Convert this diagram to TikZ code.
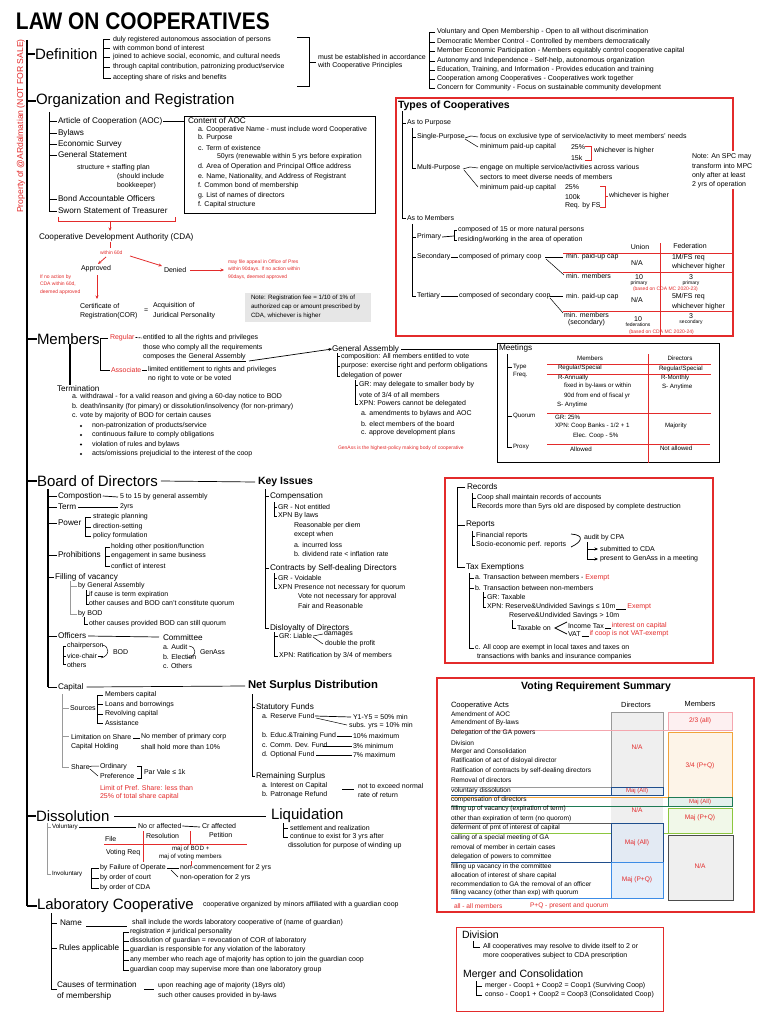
\documentclass[tikz,border=0pt]{standalone}
\usepackage{fontspec}
\setmainfont{Liberation Sans}
\usetikzlibrary{arrows.meta}
\definecolor{red1}{HTML}{E32B2B}
\definecolor{navy1}{HTML}{1F4E8C}
\definecolor{navyf}{HTML}{E3EAF3}
\definecolor{blue1}{HTML}{3C8CE6}
\definecolor{bluef}{HTML}{E4EFFB}
\definecolor{orng}{HTML}{F2A33A}
\definecolor{orngf}{HTML}{FDF4E8}
\definecolor{teal1}{HTML}{1E7A55}
\definecolor{tealf}{HTML}{E3F0EC}
\definecolor{grn1}{HTML}{8CC63F}
\definecolor{grnf}{HTML}{F1F8E9}
\definecolor{pink1}{HTML}{F4A6AE}
\definecolor{pinkf}{HTML}{FDF0F1}
\definecolor{gry1}{HTML}{9A9A9A}
\definecolor{gfill}{HTML}{EFEFEF}
\definecolor{gnote}{HTML}{E6E6E6}
\begin{document}
\begin{tikzpicture}[x=1pt,y=-1pt,
 bx/.style={anchor=west,inner sep=0pt,outer sep=0pt},
 t/.style={bx,font=\fontsize{7}{8}\selectfont},
 tv/.style={bx,font=\fontsize{6.6}{7.5}\selectfont},
 ts/.style={bx,font=\fontsize{6.2}{7.2}\selectfont},
 tm/.style={bx,font=\fontsize{8.2}{9.5}\selectfont},
 tt/.style={bx,font=\fontsize{5}{6}\selectfont},
 hd/.style={bx,font=\fontsize{15}{17}\selectfont},
 hb/.style={bx,font=\fontsize{10.5}{12}\selectfont\bfseries},
 rt/.style={text=red1},
 ln/.style={line width=0.7pt},
 lnt/.style={line width=0.5pt},
 tk/.style={line width=1.8pt},
 rl/.style={draw=red1,line width=0.8pt},
 arr/.style={-{Stealth[length=3.5pt,width=3pt]}},
]
\useasboundingbox[fill=white] (0,0) rectangle (768,1024);

% ===== Title and watermark
\node[bx,font=\fontsize{24}{26}\selectfont\bfseries] (title) at (16,21.5) {\scalebox{0.87}[1]{LAW ON COOPERATIVES}};
\node[inner sep=0pt,rotate=90,text=red1,font=\fontsize{8.6}{10}\selectfont] (wm) at (21,126) {Property of @ARdalmatian (NOT FOR SALE)};

% ===== main spine
\coordinate (m0) at (27,40);
\coordinate (m1) at (27,906);
\draw[line width=2.2pt] (m0) -- (m1);

% ===== Definition
\node[hd] (hdef) at (35,54) {Definition};
\draw[tk] (27,54) -- (hdef.west);
\draw[ln] (110,39) -- (103,39) -- (103,78) -- (111,78);
\foreach \y in {48,57,67} \draw[ln] (103,\y) -- (110,\y);
\foreach \y/\s [count=\i] in {39.5/{duly registered autonomous association of persons},48/{with common bond of interest},57/{joined to achieve social, economic, and cultural needs},67/{through capital contribution, patronizing product/service},78/{accepting share of risks and benefits}} \node[t] (d\i) at (113,\y) {\s};
\draw[ln] (297,37) -- (309,37) -- (309,86) -- (297,86);
\draw[ln] (309,62) -- (316,62);
\node[t] (acc1) at (318,57) {must be established in accordance};
\node[t] (acc2) at (318,66) {with Cooperative Principles};
\draw[ln] (435,32) -- (429,32) -- (429,88) -- (435,88);
\foreach \y in {42,51,61,70,79} \draw[ln] (429,\y) -- (435,\y);
\foreach \y/\s [count=\i] in {32/{Voluntary and Open Membership - Open to all without discrimination},42/{Democratic Member Control - Controlled by members democratically},51/{Member Economic Participation - Members equitably control cooperative capital},61/{Autonomy and Independence - Self-help, autonomous organization},70/{Education, Training, and Information - Provides education and training},79/{Cooperation among Cooperatives - Cooperatives work together},88/{Concern for Community - Focus on sustainable community development}} \node[t] (p\i) at (437,\y) {\s};

% ===== Organization and Registration
\node[hd] (horg) at (36,101) {Organization and Registration};
\draw[tk] (27,101) -- (horg.west);
\draw[ln] (49,112) -- (49,211);
\foreach \y/\s [count=\i] in {121/{Article of Cooperation (AOC)},133/{Bylaws},144/{Economic Survey},155/{General Statement},199/{Bond Accountable Officers},211/{Sworn Statement of Treasurer}} {\draw[ln] (49,\y) -- (57,\y); \node[tm] (o\i) at (58,\y) {\s};}
\node[t] (gs1) at (77,168) {structure + staffing plan};
\node[t] (gs2) at (117,177) {(should include};
\node[t] (gs3) at (117,186) {bookkeeper)};
\draw[line width=0.9pt] (184,116) rectangle (375,213);
\draw[ln] ([xshift=1pt]o1.east) -- (184,121);
\node[tm] (c0) at (188,121) {Content of AOC};
\foreach \y/\s [count=\i] in {130/{a. Cooperative Name - must include word Cooperative},138/{b. Purpose},148/{c. Term of existence},167/{d. Area of Operation and Principal Office address},177/{e. Name, Nationality, and Address of Registrant},186/{f. Common bond of membership},196/{g. List of names of directors},205/{f. Capital structure}} \node[t] (c\i) at (198,\y) {\s};
\node[t] (c9) at (217,157) {50yrs (renewable within 5 yrs before expiration};

% registration flow
\draw[rl] (58,217) -- (58,221) -- (175,221) -- (175,217);
\node[tm] (cda) at (39,237) {Cooperative Development Authority (CDA)};
\draw[rl,arr] (110,221) -- (110,231);
\draw[rl] (110,242) -- (110,248);
\node[tt,rt] (w60) at (100,252.5) {within 60d};
\node[t] (appr) at (81,269) {Approved};
\node[t] (den) at (164,270) {Denied};
\draw[rl,arr] (106,257) -- (98,264);
\draw[rl,arr] (130,256) -- (162,266);
\draw[rl,line width=1pt,arr] ([xshift=4pt]den.east) -- (224,270);
\node[tt,rt] (ap1) at (228,262) {may file appeal in Office of Pres};
\node[tt,rt] (ap2) at (228,269.5) {within 90days. If no action within};
\node[tt,rt] (ap3) at (228,277) {90days, deemed approved};
\node[tt,rt] (na1) at (40,277) {If no action by};
\node[tt,rt] (na2) at (40,284.5) {CDA within 60d,};
\node[tt,rt] (na3) at (40,292) {deemed approved};
\draw[rl,arr] (97,275) -- (97,299);
\node[t] (cor1) at (80,306) {Certificate of};
\node[t] (cor2) at (80,316) {Registration(COR)};
\node[t] (eq) at (144,311) {=};
\node[t] (jp1) at (153,306) {Acquisition of};
\node[t] (jp2) at (153,316) {Juridical Personality};
\fill[gnote] (245,293) rectangle (371,322);
\node[ts] (fee1) at (251,298) {Note: Registration fee = 1/10 of 1\% of};
\node[ts] (fee2) at (251,307) {authorized cap or amount prescribed by};
\node[ts] (fee3) at (251,316) {CDA, whichever is higher};

% ===== Members
\node[hd] (hmem) at (37,339) {Members};
\draw[tk] (27,339) -- (hmem.west);
\draw[ln] (108,338) -- (100,338) -- (100,370) -- (110,370);
\node[t,rt] (reg) at (110,337.5) {Regular};
\draw[ln,dash pattern=on 2pt off 1pt] ([xshift=1pt]reg.east) -- (142,338);
\node[t] (r1) at (143,338) {entitled to all the rights and privileges};
\node[t] (r2) at (143,348) {those who comply all the requirements};
\node[t] (r3) at (143,357.5) {composes the \underline{General Assembly}};
\node[t,rt] (asc) at (111,370) {Associate};
\draw[ln] ([xshift=1pt]asc.east) -- (147,370);
\node[t] (a1) at (148,370) {limited entitlement to rights and privileges};
\node[t] (a2) at (148,379) {no right to vote or be voted};
\draw[line width=1.3pt] (70,344) -- (70,385);
\node[tm] (term) at (57,389) {Termination};
\node[t] (tr1) at (72,397) {a. withdrawal - for a valid reason and giving a 60-day notice to BOD};
\node[t] (tr2) at (72,407) {b. death/insanity (for pimary) or dissolution/insolvency (for non-primary)};
\node[t] (tr3) at (72,416) {c. vote by majority of BOD for certain causes};
\foreach \y/\s [count=\i] in {426/{non-patronization of products/service},435/{continuous failure to comply obligations},444.5/{violation of rules and bylaws},454/{acts/omissions prejudicial to the interest of the coop}} {\fill (81,\y) circle (1.1pt); \node[t] (tb\i) at (92,\y) {\s};}

% General Assembly
\node[tm] (ga) at (332,349) {General Assembly};
\draw[ln,arr] (249,361) -- (ga.west);
\draw[ln] ([xshift=2pt]ga.east) -- (497,349);
\draw[ln] (337,353) -- (337,376);
\foreach \y/\s [count=\i] in {356.5/{composition: All members entitled to vote},366/{purpose: exercise right and perform obligations},376/{delegation of power}} {\draw[ln] (337,\y) -- (340,\y); \node[t] (g\i) at (341,\y) {\s};}
\draw[ln] (355,380) -- (355,404);
\draw[ln] (355,385) -- (358,385);
\draw[ln] (355,404) -- (358,404);
\node[t] (g4) at (359,385) {GR: may delegate to smaller body by};
\node[t] (g5) at (359,395) {vote of 3/4 of all members};
\node[t] (g6) at (359,404) {XPN: Powers cannot be delegated};
\node[t] (g7) at (361,414) {a. amendments to bylaws and AOC};
\node[t] (g8) at (361,424) {b. elect members of the board};
\node[t] (g9) at (361,433) {c. approve development plans};
\node[tt,rt] (g10) at (338,448.5) {GenAss is the highest-policy making body of cooperative};

% Meetings
\draw[line width=0.9pt] (497,343) rectangle (719,462);
\node[tm] (meet) at (499,348) {Meetings};
\draw[ln] (507,354) -- (507,447);
\foreach \y in {367,416,447} \draw[ln] (507,\y) -- (512,\y);
\node[ts] (mt1) at (513,367) {Type};
\node[ts] (mt2) at (513,375) {Freq.};
\node[ts] (mt3) at (513,416) {Quorum};
\node[ts] (mt4) at (513,447) {Proxy};
\node[ts,anchor=center] (mh1) at (590,358) {Members};
\node[ts,anchor=center] (mh2) at (680,358) {Directors};
\draw[rl] (648,354) -- (648,463);
\draw[rl] (547,364) -- (711,364);
\draw[rl] (547,374) -- (711,374);
\draw[rl] (547,413) -- (711,413);
\draw[rl] (547,444) -- (710,444);
\node[ts] (mc1) at (558,368) {Regular/Special};
\node[ts] (mc2) at (659,369) {Regular/Special};
\node[ts] (mc3) at (558,377.5) {R-Annually};
\node[ts] (mc4) at (564,386) {fixed in by-laws or within};
\node[ts] (mc5) at (564,396) {90d from end of fiscal yr};
\node[ts] (mc6) at (557,405) {S- Anytime};
\node[ts] (mc7) at (661,378) {R-Monthly};
\node[ts] (mc8) at (662,387) {S- Anytime};
\node[ts] (mc9) at (555,417) {GR: 25\%};
\node[ts] (mc10) at (555,426) {XPN: Coop Banks - 1/2 + 1};
\node[ts] (mc11) at (573,436) {Elec. Coop - 5\%};
\node[ts] (mc12) at (665,426) {Majority};
\node[ts] (mc13) at (570,449) {Allowed};
\node[ts] (mc14) at (660,448) {Not allowed};

% ===== Types of Cooperatives
\draw[red1,line width=1.2pt] (396,98) rectangle (733,336);
\node[hb] (htyp) at (398,106) {Types of Cooperatives};
\draw[ln] (402,111) -- (402,218);
\draw[ln] (402,123) -- (406,123);
\draw[ln] (402,218) -- (406,218);
\node[t] (tp1) at (407,123) {As to Purpose};
\node[t] (tp2) at (407,218) {As to Members};
\draw[ln] (412,128) -- (412,168);
\draw[ln] (412,137) -- (416,137);
\draw[ln] (412,168) -- (416,168);
\node[t] (sp) at (417,137) {Single-Purpose};
\node[t] (mp) at (417,168) {Multi-Purpose};
\draw[lnt] (465,138) -- (471,136) -- (478,137);
\draw[lnt] (465,139) -- (478,147);
\node[t] (sp1) at (480,137) {focus on exclusive type of service/activity to meet members' needs};
\node[t] (sp2) at (480,147) {minimum paid-up capital};
\node[t] (sp3) at (571,147) {25\%};
\node[t] (sp4) at (571,157.5) {15k};
\draw[rl] (585,146) -- (591,146) -- (591,160) -- (585,160);
\node[t] (sp5) at (594,151) {whichever is higher};
\draw[lnt] (463,169) -- (470,167) -- (478,168);
\draw[lnt] (464,170) -- (478,187);
\node[t] (mp1) at (480,168) {engage on multiple service/activities across various};
\node[t] (mp2) at (480,177) {sectors to meet diverse needs of members};
\node[t] (mp3) at (480,187.5) {minimum paid-up capital};
\node[t] (mp4) at (565,187) {25\%};
\node[t] (mp5) at (565,196.5) {100k};
\node[t] (mp6) at (565,206) {Req. by FS};
\draw[rl] (600,186) -- (605,186) -- (605,207) -- (600,207);
\draw[rl] (605,196) -- (608,196);
\node[t] (mp7) at (609,196) {whichever is higher};
\fill[white] (727,151) rectangle (756,189);
\node[t] (nt1) at (692,157) {Note: An SPC may};
\node[t] (nt2) at (692,166) {transform into MPC};
\node[t] (nt3) at (692,176) {only after at least};
\node[t] (nt4) at (692,185) {2 yrs of operation};
\draw[ln] (412,224) -- (412,297);
\foreach \y in {237,257,296} \draw[ln] (412,\y) -- (416,\y);
\node[t] (pr) at (417,237) {Primary};
\draw[ln] ([xshift=1pt]pr.east) -- (454,236);
\draw[ln] (457,230) -- (454,230) -- (454,240) -- (457,240);
\node[t] (pr1) at (458,230) {composed of 15 or more natural persons};
\node[t] (pr2) at (458,240) {residing/working in the area of operation};
\node[t] (sec) at (417,257) {Secondary};
\node[t] (sc1) at (459,257) {composed of primary coop};
\draw[ln] ([xshift=1pt]sec.east) -- ([xshift=-1pt]sc1.west);
\draw[ln] (545,257) -- (563,257);
\draw[lnt] (546,259) -- (564,275);
\node[t] (sc2) at (566,257) {min. paid-up cap};
\node[t] (sc3) at (566,276) {min. members};
\node[t] (ter) at (417,296) {Tertiary};
\node[t] (tc1) at (459,296) {composed of secondary coop};
\draw[ln] ([xshift=1pt]ter.east) -- ([xshift=-1pt]tc1.west);
\draw[ln] (550,296) -- (563,296);
\draw[lnt] (550,298) -- (563,313);
\node[t] (tc2) at (566,297) {min. paid-up cap};
\node[t] (tc3) at (564,315) {min. members};
\node[t] (tc4) at (568,322.5) {(secondary)};
\node[t,anchor=center] (un) at (640,247) {Union};
\node[t,anchor=center] (fe) at (690,246) {Federation};
\draw[rl] (660,243) -- (660,335);
\draw[rl] (563,253) -- (732,253);
\draw[rl] (563,272) -- (732,272);
\draw[rl] (563,311) -- (732,311);
\node[t] (u1) at (631,263) {N/A};
\node[t] (f1) at (672,258) {1M/FS req};
\node[t] (f2) at (672,267) {whichever higher};
\node[t,anchor=center] (u2) at (639,277) {10};
\node[tt,anchor=center] (u3) at (639,283) {primary};
\node[t,anchor=center] (f3) at (691,277) {3};
\node[tt,anchor=center] (f4) at (691,283) {primary};
\node[tt,rt] (bs1) at (633,289) {(based on CDA MC 2020-23)};
\node[t] (u4) at (631,300) {N/A};
\node[t] (f5) at (672,297) {5M/FS req};
\node[t] (f6) at (672,307) {whichever higher};
\node[t,anchor=center] (u5) at (638,319) {10};
\node[tt,anchor=center] (u6) at (638,325) {federations};
\node[t,anchor=center] (f7) at (691,316) {3};
\node[tt,anchor=center] (f8) at (691,322) {secondary};
\node[tt,rt] (bs2) at (629,332) {(based on CDA MC 2020-24)};

% ===== Board of Directors
\node[hd] (hbod) at (37,481) {Board of Directors};
\draw[tk] (27,481) -- (hbod.west);
\node[hb] (hkey) at (258,482) {Key Issues};
\draw[ln] ([xshift=3pt]hbod.east) -- ([xshift=-3pt]hkey.west);
\draw[line width=1.1pt] (48,489) -- (48,687);
\draw[ln] (48,496) -- (57,496); \node[tm] (b1) at (58,496) {Compostion};
\draw[ln] ([xshift=1pt]b1.east) -- (118,497); \node[t] (b1a) at (120,497) {5 to 15 by general assembly};
\draw[ln] (48,507) -- (57,507); \node[tm] (b2) at (58,507) {Term};
\draw[ln] ([xshift=2pt]b2.east) -- (118,507); \node[t] (b2a) at (120,507) {2yrs};
\draw[ln] (48,523) -- (57,523); \node[tm] (b3) at (58,523) {Power};
\draw[ln] (91,517) -- (85,517) -- (85,536) -- (91,536); \draw[ln] (85,527) -- (91,527);
\node[t] (b3a) at (93,517) {strategic planning};
\node[t] (b3b) at (93,527) {direction-setting};
\node[t] (b3c) at (93,536) {policy formulation};
\draw[ln] (48,555) -- (57,555); \node[tm] (b4) at (58,555) {Prohibitions};
\draw[ln] (110,547) -- (105,547) -- (105,566) -- (110,566); \draw[ln] (105,556) -- (110,556);
\node[t] (b4a) at (111,547) {holding other position/function};
\node[t] (b4b) at (111,556) {engagement in same business};
\node[t] (b4c) at (111,566) {conflict of interest};
\draw[ln] (48,577) -- (54,577); \node[tm] (b5) at (55,577) {Filling of vacancy};
\draw[lnt,gry1] (70,581) -- (70,614);
\draw[lnt,gry1] (70,586) -- (77,586);
\draw[lnt,gry1] (70,614) -- (77,614);
\node[t] (fv1) at (78,586) {by General Assembly};
\draw[lnt] (86,590) -- (86,604) -- (89,604);
\draw[lnt] (86,595) -- (89,595);
\node[t] (fv2) at (89,595) {if cause is term expiration};
\node[t] (fv3) at (89,604) {other causes and BOD can't constitute quorum};
\node[t] (fv4) at (78,614) {by BOD};
\draw[lnt] (84,617) -- (84,624) -- (88,624);
\node[t] (fv5) at (89,624) {other causes provided BOD can still quorum};
\draw[ln] (48,636) -- (57,636); \node[tm] (b6) at (58,636) {Officers};
\draw[ln] ([xshift=2pt]b6.east) -- (159,637);
\node[tm] (com) at (163,638) {Committee};
\draw[ln] (66,646) -- (63,646) -- (63,664) -- (66,664); \draw[ln] (63,656) -- (66,656);
\node[t] (of1) at (67,646) {chairperson};
\node[t] (of2) at (67,656) {vice-chair};
\node[t] (of3) at (67,664.5) {others};
\draw[lnt] (102,645) .. controls (110,646) and (110,656) .. (101,658);
\draw[lnt] (98,656) -- (103,656);
\node[t] (of4) at (113,652) {BOD};
\node[t] (cm1) at (163,647) {a. Audit};
\node[t] (cm2) at (163,657) {b. Election};
\node[t] (cm3) at (163,666) {c. Others};
\draw[lnt] (189,646) .. controls (197,647) and (197,656) .. (188,658);
\node[t] (cm4) at (200,652) {GenAss};

% Capital
\draw[ln] (48,687) -- (57,687); \node[tm] (b7) at (58,687) {Capital};
\node[bx,font=\fontsize{11.3}{13}\selectfont\bfseries] (hnsd) at (248,686) {Net Surplus Distribution};
\draw[ln] ([xshift=3pt]b7.east) -- ([xshift=-3pt]hnsd.west);
\draw[lnt,gry1,line width=0.8pt] (62,694) -- (62,767);
\foreach \y in {708,736,767} \draw[lnt,gry1,line width=0.8pt] (62,\y) -- (69,\y);
\node[t] (s1) at (70,708) {Sources};
\draw[ln] (103,695) -- (97,695) -- (97,723) -- (103,723);
\draw[ln] (97,704) -- (103,704); \draw[ln] (97,714) -- (103,714);
\node[t] (s1a) at (105,695) {Members capital};
\node[t] (s1b) at (105,704.5) {Loans and borrowings};
\node[t] (s1c) at (105,714) {Revolving capital};
\node[t] (s1d) at (105,723) {Assistance};
\node[t] (s2) at (71,737) {Limitation on Share};
\node[t] (s3) at (71,746.5) {Capital Holding};
\draw[ln] (133,738) -- (140,738);
\node[t] (s4) at (141,737) {No member of primary corp};
\node[t] (s5) at (141,747) {shall hold more than 10\%};
\node[t] (s6) at (71,767) {Share};
\draw[lnt] (89,767) -- (92,766) -- (99,766);
\draw[lnt] (90,769) -- (98,776);
\node[t] (s7) at (100,766.5) {Ordinary};
\node[t] (s8) at (100,776) {Preference};
\draw[ln] (137,766) -- (141,766) -- (141,778) -- (137,778);
\node[t] (s9) at (144,772) {Par Vale ≤ 1k};
\node[t,rt] (s10) at (100,788) {Limit of Pref. Share: less than};
\node[t,rt] (s11) at (100,797) {25\% of total share capital};

% Net surplus
\draw[ln] (252,694) -- (252,776);
\draw[ln] (252,707) -- (255,707);
\draw[ln] (252,776) -- (255,776);
\node[tm] (ns1) at (256,707) {Statutory Funds};
\node[t] (ns2) at (262,716) {a. Reserve Fund};
\draw[ln] (315,716) -- (351,717);
\draw[lnt] (316,718) -- (347,725);
\node[t] (ns3) at (353,717) {Y1-Y5 = 50\% min};
\node[t] (ns4) at (349,726) {subs. yrs = 10\% min};
\node[t] (ns5) at (262,736) {b. Educ.\&Training Fund};
\draw[ln] ([xshift=1pt]ns5.east) -- (352,736);
\node[t] (ns6) at (353,736) {10\% maximum};
\node[t] (ns7) at (262,745) {c. Comm. Dev. Fund};
\draw[ln] (323,746) -- (352,746);
\node[t] (ns8) at (353,746) {3\% minimum};
\node[t] (ns9) at (262,755) {d. Optional Fund};
\draw[ln] (316,755) -- (352,755);
\node[t] (ns10) at (353,755) {7\% maximum};
\node[tm] (ns11) at (256,776) {Remaining Surplus};
\node[t] (ns12) at (262,786) {a. Interest on Capital};
\node[t] (ns13) at (262,795) {b. Patronage Refund};
\draw[ln] (342,789) -- (354,789);
\node[t] (ns14) at (358,786) {not to exceed normal};
\node[t] (ns15) at (358,795) {rate of return};

% Key issues
\draw[ln] (265,489) -- (265,628);
\foreach \y in {496,568,628} \draw[ln] (265,\y) -- (269,\y);
\node[tm] (k1) at (270,496) {Compensation};
\draw[ln] (274,502) -- (274,516);
\draw[ln] (274,507) -- (277,507);
\draw[ln] (274,516) -- (277,516);
\node[t] (k2) at (278,507) {GR - Not entitled};
\node[t] (k3) at (278,516) {XPN By laws};
\node[t] (k4) at (294,526) {Reasonable per diem};
\node[t] (k5) at (294,535) {except when};
\node[t] (k6) at (294,545) {a. incurred loss};
\node[t] (k7) at (294,554) {b. dividend rate < inflation rate};
\node[tm] (k8) at (270,568) {Contracts by Self-dealing Directors};
\draw[ln] (274,573) -- (274,588);
\draw[ln] (274,578) -- (277,578);
\draw[ln] (274,588) -- (277,588);
\node[t] (k9) at (278,578) {GR - Voidable};
\node[t] (k10) at (278,588) {XPN Presence not necessary for quorum};
\node[t] (k11) at (298,597) {Vote not necessary for approval};
\node[t] (k12) at (298,606) {Fair and Reasonable};
\node[tm] (k13) at (270,628) {Disloyalty of Directors};
\draw[ln] (274,632) -- (274,656);
\draw[ln] (274,636) -- (278,636);
\draw[ln] (274,656) -- (278,656);
\node[t] (k14) at (279,636) {GR: Liable};
\draw[lnt] ([xshift=1pt]k14.east) -- (323,634);
\draw[lnt] (313,637) -- (323,644);
\node[t] (k15) at (324,634) {damages};
\node[t] (k16) at (325,644) {double the profit};
\node[t] (k17) at (279,656) {XPN: Ratification by 3/4 of members};

% ===== Records / Reports / Tax box
\draw[red1,line width=1.2pt] (445,478) rectangle (713,663);
\draw[ln] (465,487) -- (457,487) -- (457,567) -- (465,567);
\draw[ln] (457,525) -- (465,525);
\node[tm] (rc) at (467,487) {Records};
\draw[lnt] (472,493) -- (472,507) -- (476,507);
\draw[lnt] (472,498) -- (476,498);
\node[t] (rc1) at (477,498) {Coop shall maintain records of accounts};
\node[t] (rc2) at (477,507) {Records more than 5yrs old are disposed by complete destruction};
\node[tm] (rp) at (466,525) {Reports};
\draw[lnt] (472,531) -- (472,545) -- (475,545);
\draw[lnt] (472,536) -- (475,536);
\node[t] (rp1) at (476,536) {Financial reports};
\node[t] (rp2) at (476,545) {Socio-economic perf. reports};
\draw[ln] (571,534) .. controls (585,535) and (582,542) .. (571,547);
\node[t] (rp3) at (584,538) {audit by CPA};
\draw[ln] (587,542) -- (587,559);
\draw[ln,arr] (587,549) -- (598,549);
\draw[ln,arr] (587,559) -- (598,559);
\node[t] (rp4) at (600,549) {submitted to CDA};
\node[t] (rp5) at (600,559) {present to GenAss in a meeting};
\node[tm] (tx) at (466,567) {Tax Exemptions};
\draw[ln] (469,573) -- (469,648);
\foreach \y in {578,588,648} \draw[ln] (469,\y) -- (474,\y);
\node[t] (tx1) at (475,578) {a. Transaction between members - \textcolor{red1}{Exempt}};
\node[t] (tx2) at (475,588) {b. Transaction between non-members};
\draw[ln] (483,592) -- (483,607);
\draw[ln] (483,597) -- (486,597);
\draw[ln] (483,607) -- (486,607);
\node[t] (tx3) at (487,597) {GR: Taxable};
\node[t] (tx4) at (487,607) {XPN: Reserve\&Undivided Savings ≤ 10m};
\node[t,rt] (tx5) at ([xshift=12pt]tx4.east) {Exempt};
\draw[ln] ([xshift=1pt,yshift=-2pt]tx4.east) -- ([xshift=-1pt,yshift=-2pt]tx5.west);
\node[t] (tx6) at (509,616) {Reserve\&Undivided Savings > 10m};
\draw[ln] (512,620) -- (512,628) -- (516,628);
\node[t] (tx7) at (517,628) {Taxable on};
\draw[ln] (567,622) -- (555,628) -- (567,634);
\node[t] (tx8) at (568,626) {Income Tax};
\node[t,rt] (tx9) at ([xshift=8pt]tx8.east) {interest on capital};
\draw[ln] ([xshift=1pt,yshift=-2pt]tx8.east) -- ([xshift=-1pt,yshift=-2pt]tx9.west);
\node[t] (tx10) at (568,634) {VAT};
\node[t,rt] (tx11) at ([xshift=9pt]tx10.east) {if coop is not VAT-exempt};
\draw[ln] ([xshift=1pt,yshift=-2pt]tx10.east) -- ([xshift=-1pt,yshift=-2pt]tx11.west);
\node[t] (tx12) at (475,648) {c. All coop are exempt in local taxes and taxes on};
\node[t] (tx13) at (477,657) {transactions with banks and insurance companies};

% ===== Voting Requirement Summary
\draw[red1,line width=1.2pt] (437,678) rectangle (754,912);
\node[hb,anchor=center] (vt) at (596,687) {Voting Requirement Summary};
\node[bx,font=\fontsize{7.6}{9}\selectfont] (vca) at (451,705.5) {Cooperative Acts};
\node[inner sep=0pt,font=\fontsize{7.4}{9}\selectfont] (vdh) at (636,705) {Directors};
\node[inner sep=0pt,font=\fontsize{7.4}{9}\selectfont] (vmh) at (700,703.5) {Members};
\draw[gry1,fill=gfill,line width=0.9pt] (611,712) rectangle (663,787);
\draw[pink1,fill=pinkf,line width=0.9pt] (668,712) rectangle (732,730);
\draw[pink1,line width=0.9pt] (451,730) -- (668,730);
\draw[orng,fill=orngf,line width=0.9pt] (668,732) rectangle (732,797);
\draw[gry1,line width=0.9pt] (451,787) -- (611,787);
\draw[navy1,fill=navyf,line width=0.9pt] (611,787) rectangle (663,795);
\draw[navy1,line width=0.9pt] (451,795) -- (611,795);
\draw[orng,line width=0.9pt] (451,797) -- (668,797);
\fill[gfill] (611,798) rectangle (663,823);
\draw[teal1,fill=tealf,line width=0.9pt] (668,797) rectangle (732,806);
\draw[teal1,line width=0.9pt] (451,806) -- (668,806);
\draw[grn1,fill=grnf,line width=0.9pt] (668,808) rectangle (732,833);
\draw[gray!70!black,line width=0.9pt] (451,823) -- (611,823);
\draw[grn1,line width=0.9pt] (451,833) -- (668,833);
\draw[navy1,fill=navyf,line width=0.9pt] (611,823) rectangle (663,862);
\draw[navy1,line width=0.9pt] (451,862) -- (611,862);
\draw[blue1,fill=bluef,line width=0.9pt] (611,862) rectangle (663,898);
\draw[blue1,line width=0.9pt] (451,898) -- (611,898);
\draw[gray!60!black,fill=gfill,line width=0.9pt] (668,835) rectangle (733,900);
\foreach \y/\s [count=\i] in {714/{Amendment of AOC},723/{Amendment of By-laws},733/{Delegation of the GA powers},743/{Division},752/{Merger and Consolidation},761/{Ratification of act of disloyal director},771/{Ratification of contracts by self-dealing directors},780/{Removal of directors},791/{voluntary dissolution},800/{compensation of directors},809/{filling up of vacancy (expiration of term)},819/{other than expiration of term (no quorom)},828/{deferment of pmt of interest of capital},838/{calling of a special meeting of GA},847/{removal of member in certain cases},857/{delegation of powers to committee},867/{filling up vacancy in the committee},875.5/{allocation of interest of share capital},884/{recommendation to GA the removal of an officer},893/{filling vacancy (other than exp) with quorum}} \node[tv] (v\i) at (451,\y) {\s};
\node[tv,rt,anchor=center] (vr1) at (637,747) {N/A};
\node[tv,rt,anchor=center,font=\fontsize{6}{7}\selectfont] (vr2) at (637,791) {Maj (All)};
\node[tv,rt,anchor=center] (vr3) at (637,810) {N/A};
\node[tv,rt,anchor=center] (vr4) at (637,843) {Maj (All)};
\node[tv,rt,anchor=center] (vr5) at (637,880) {Maj (P+Q)};
\node[tv,rt,anchor=center] (vr6) at (700,721) {2/3 (all)};
\node[tv,rt,anchor=center] (vr7) at (700,766) {3/4 (P+Q)};
\node[tv,rt,anchor=center,font=\fontsize{6}{7}\selectfont] (vr8) at (700,801.5) {Maj (All)};
\node[tv,rt,anchor=center] (vr9) at (700,818) {Maj (P+Q)};
\node[tv,rt,anchor=center] (vr10) at (700,866) {N/A};
\node[tv,rt] (lg1) at (454,906) {all - all members};
\node[tv,rt] (lg2) at (530,906) {P+Q - present and quorum};

% ===== Dissolution / Liquidation
\node[hd] (hdis) at (36,816) {Dissolution};
\draw[tk] (27,816) -- (hdis.west);
\node[hd] (hliq) at (271,816) {Liquidation};
\draw[ln] ([xshift=5pt]hdis.east) -- ([xshift=-5pt]hliq.west);
\draw[ln] (288,828) -- (283,828) -- (283,837) -- (288,837);
\draw[ln] (283,823) -- (283,828);
\node[t] (lq1) at (290,828) {settlement and realization};
\node[t] (lq2) at (290,837) {continue to exist for 3 yrs after};
\node[t] (lq3) at (288,846) {dissolution for purpose of winding up};
\draw[line width=0.8pt,gry1] (47,823) -- (47,874);
\draw[line width=0.8pt,gry1] (47,827) -- (51,827);
\draw[line width=0.8pt,gry1] (47,874) -- (51,874);
\node[ts] (vol) at (52,827) {Voluntary};
\draw[ln] ([xshift=1pt]vol.east) -- (136,827);
\node[t] (ncr) at (138,826) {No cr affected};
\draw[ln] ([xshift=1pt]ncr.east) -- (200,827);
\node[t] (cra) at (202,826) {Cr affected};
\node[t] (pet) at (209,834.5) {Petition};
\draw[rl] (143,831) -- (143,862);
\draw[rl] (190,831) -- (190,844);
\draw[rl] (104,844) -- (247,844);
\draw[rl] (191,861) -- (191,866);
\node[t] (fil) at (105,839) {File};
\node[t] (res) at (146,836) {Resolution};
\node[t] (vrq) at (106,853) {Voting Req};
\node[ts] (mj1) at (172,848.5) {maj of BOD +};
\node[ts] (mj2) at (159,857) {maj of voting members};
\node[ts] (inv) at (52,874) {Involuntary};
\draw[ln] (99,868) -- (91,868) -- (91,888) -- (99,888);
\draw[ln] (91,878) -- (99,878);
\node[t] (iv1) at (100,868) {by Failure of Operate};
\node[t] (iv2) at (100,878) {by order of court};
\node[t] (iv3) at (100,888) {by order of CDA};
\draw[lnt] ([xshift=1pt]iv1.east) -- (179,868);
\draw[lnt] (171,870) -- (178,877);
\node[t] (iv4) at (180,868) {non-commencement for 2 yrs};
\node[t] (iv5) at (180,878) {non-operation for 2 yrs};

% ===== Laboratory Cooperative
\node[hd] (hlab) at (37,906) {Laboratory Cooperative};
\draw[tk] (27,906) -- (hlab.west);
\node[t] (lc0) at (203,905) {cooperative organized by minors affiliated with a guardian coop};
\draw[ln] (51,913) -- (51,989);
\foreach \y in {923,948,989} \draw[ln] (51,\y) -- (57,\y);
\node[tm] (lc1) at (60,923) {Name};
\draw[ln] (86,926) -- (127,926);
\node[t] (lc2) at (132,923) {shall include the words laboratory cooperative of (name of guardian)};
\node[tm] (lc3) at (59,948) {Rules applicable};
\draw[ln] (129,932) -- (123,932) -- (123,970) -- (129,970);
\foreach \y in {941,950,960} \draw[ln] (123,\y) -- (129,\y);
\foreach \y/\s [count=\i] in {932/{registration ≠ juridical personality},941/{dissolution of guardian = revocation of COR of laboratory},950/{guardian is responsible for any violation of the laboratory},960/{any member who reach age of majority has option to join the guardian coop},970/{guardian coop may supervise more than one laboratory group}} \node[t] (lr\i) at (130,\y) {\s};
\node[tm] (lc9) at (57,985) {Causes of termination};
\node[tm] (lc10) at (57,996) {of membership};
\draw[ln] (144,989) -- (154,989);
\node[t] (lc11) at (158,986) {upon reaching age of majority (18yrs old)};
\node[t] (lc12) at (158,996) {such other causes provided in by-laws};

% ===== Division box
\draw[red1,line width=1pt] (456,927) rectangle (663,1011);
\node[bx,font=\fontsize{10.5}{12}\selectfont] (dv) at (462,935) {Division};
\draw[ln] (473,941) -- (473,947) -- (480,947);
\node[t] (dv1) at (483,947) {All cooperatives may resolve to divide itself to 2 or};
\node[t] (dv2) at (483,956) {more cooperatives subject to CDA prescription};
\node[bx,font=\fontsize{10.5}{12}\selectfont] (mcn) at (463,975) {Merger and Consolidation};
\draw[ln] (476,981) -- (476,995) -- (482,995);
\draw[ln] (476,986) -- (482,986);
\node[t] (mc1x) at (485,986) {merger - Coop1 + Coop2 = Coop1 (Surviving Coop)};
\node[t] (mc2x) at (485,995) {conso - Coop1 + Coop2 = Coop3 (Consolidated Coop)};
\end{tikzpicture}
\end{document}
